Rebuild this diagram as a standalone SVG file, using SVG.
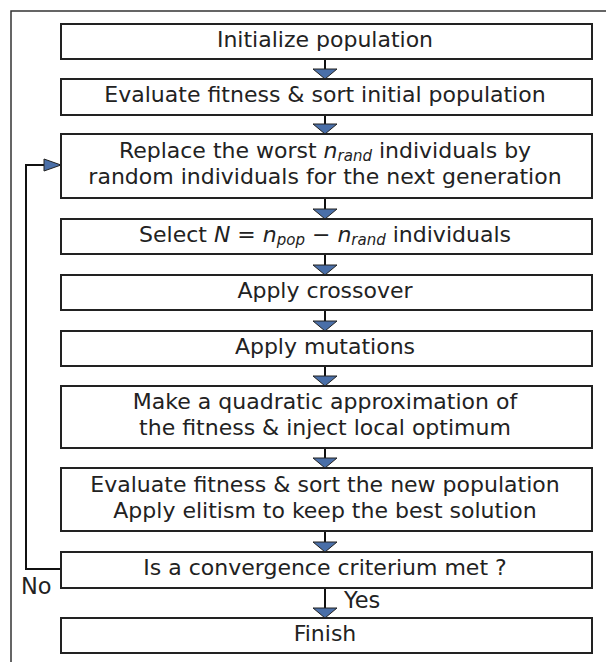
<svg xmlns="http://www.w3.org/2000/svg" width="606" height="662" viewBox="0 0 606 662">
<defs>
<style>
.box{fill:#fff;stroke:#222;stroke-width:2}
.t{font-family:"DejaVu Sans",sans-serif;font-size:22px;fill:#222;text-anchor:middle}
.lbl{font-family:"DejaVu Sans",sans-serif;font-size:22.5px;fill:#222}
.ln{fill:none;stroke:#111;stroke-width:2}
.ah{fill:#4a6fa8;stroke:#222;stroke-width:1}
.i{font-style:italic}
.sub{font-style:italic;font-size:15px}
</style>
</defs>
<rect width="606" height="662" fill="#fff"/>
<path d="M11,662 V11 H606" fill="none" stroke="#333" stroke-width="1.5"/>
<g id="connectors">
<path class="ln" d="M325,59 V69 M325,115 V124 M325,198 V209 M325,254 V265 M325,310 V321 M325,366 V376 M325,448 V458 M325,531 V542 M325,588 V608"/>
<path class="ah" d="M313,69 H337 L325,79 Z M313,124 H337 L325,134 Z M313,209 H337 L325,219 Z M313,265 H337 L325,275 Z M313,321 H337 L325,331 Z M313,376 H337 L325,386 Z M313,458 H337 L325,468 Z M313,542 H337 L325,552 Z M313,608 H337 L325,618 Z"/>
<path class="ln" d="M61,569 H26 V165 H44"/>
<path class="ah" d="M44,159 V171 L61,165 Z"/>
<text class="lbl" x="21" y="594">No</text>
<text class="lbl" x="344" y="608">Yes</text>
</g>
<g id="n1"><rect class="box" x="61" y="24" width="531" height="35"/><text class="t" x="325" y="46.5">Initialize population</text></g>
<g id="n2"><rect class="box" x="61" y="79" width="531" height="36"/><text class="t" x="325" y="102">Evaluate fitness &amp; sort initial population</text></g>
<g id="n3"><rect class="box" x="61" y="134" width="531" height="64"/><text class="t" x="325" y="158">Replace the worst <tspan class="i">n</tspan><tspan class="sub" dy="2.5">rand</tspan><tspan dy="-2.5"> individuals by</tspan></text><text class="t" x="325" y="184">random individuals for the next generation</text></g>
<g id="n4"><rect class="box" x="61" y="219" width="531" height="35"/><text class="t" x="325" y="241.5">Select <tspan class="i">N</tspan> = <tspan class="i">n</tspan><tspan class="sub" dy="3.5">pop</tspan><tspan dy="-3.5"> − </tspan><tspan class="i">n</tspan><tspan class="sub" dy="3.5">rand</tspan><tspan dy="-3.5"> individuals</tspan></text></g>
<g id="n5"><rect class="box" x="61" y="275" width="531" height="35"/><text class="t" x="325" y="297.5">Apply crossover</text></g>
<g id="n6"><rect class="box" x="61" y="331" width="531" height="35"/><text class="t" x="325" y="353.5">Apply mutations</text></g>
<g id="n7"><rect class="box" x="61" y="386" width="531" height="62"/><text class="t" x="325" y="409">Make a quadratic approximation of</text><text class="t" x="325" y="435">the fitness &amp; inject local optimum</text></g>
<g id="n8"><rect class="box" x="61" y="468" width="531" height="63"/><text class="t" x="325" y="491.5">Evaluate fitness &amp; sort the new population</text><text class="t" x="325" y="517.5">Apply elitism to keep the best solution</text></g>
<g id="n9"><rect class="box" x="61" y="552" width="531" height="36"/><text class="t" x="325" y="575">Is a convergence criterium met ?</text></g>
<g id="n10"><rect class="box" x="61" y="618" width="531" height="35"/><text class="t" x="325" y="640.5">Finish</text></g>
</svg>
